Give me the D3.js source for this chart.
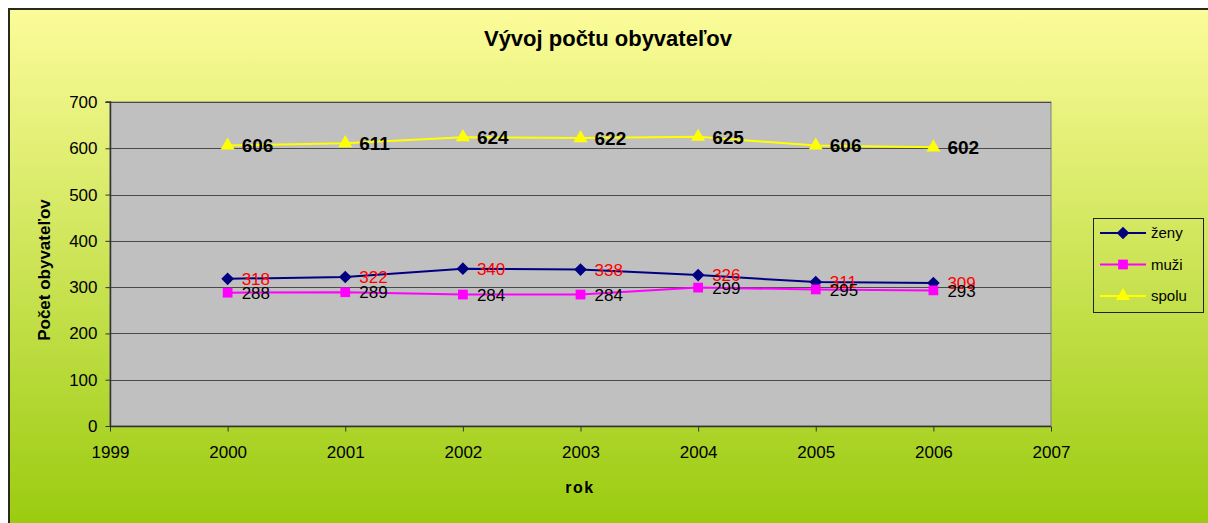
<!DOCTYPE html>
<html><head><meta charset="utf-8">
<script src="https://cdn.jsdelivr.net/npm/d3@7"></script>
<style>html,body{margin:0;padding:0;background:#fff;overflow:hidden}svg{display:block;font-family:"Liberation Sans",Arial,sans-serif}</style>
</head><body>
<svg id="c" width="1208" height="523"></svg>
<script>
const years = [2000, 2001, 2002, 2003, 2004, 2005, 2006];
const zeny = [318, 322, 340, 338, 326, 311, 309];
const muzi = [288, 289, 284, 284, 299, 295, 293];
const spolu = [606, 611, 624, 622, 625, 606, 602];
const yTicks = [0, 100, 200, 300, 400, 500, 600, 700];
const xTicks = [1999, 2000, 2001, 2002, 2003, 2004, 2005, 2006, 2007];
const seriesNames = ["ženy", "muži", "spolu"];

const svg = d3.select("#c");
const defs = svg.append("defs");
const g = defs.append("linearGradient").attr("id","bg").attr("x1",0).attr("y1",0).attr("x2",0).attr("y2",1);
g.append("stop").attr("offset","0%").attr("stop-color","#FCFC9A");
g.append("stop").attr("offset","100%").attr("stop-color","#98CA0C");

svg.append("rect").attr("x",9).attr("y",9).attr("width",1210).attr("height",530)
  .attr("fill","url(#bg)").attr("stroke","#2a2a1a").attr("stroke-width",2);

const L = 110, R = 1051, T = 102, B = 426;
const x = d3.scaleLinear().domain([1999, 2007]).range([L, R]);
const y = d3.scaleLinear().domain([0, 700]).range([B, T]);

svg.append("rect").attr("x",L).attr("y",T).attr("width",R-L).attr("height",B-T)
  .attr("fill","#C0C0C0").attr("stroke","#808080").attr("stroke-width",1);

// gridlines
svg.append("g").selectAll("line").data(yTicks.filter(d=>d>0)).join("line")
  .attr("x1",L).attr("x2",R).attr("y1",d=>Math.round(y(d))+0.5).attr("y2",d=>Math.round(y(d))+0.5)
  .attr("stroke","#4a4a4a").attr("stroke-width",1);

// axes
const yAxis = d3.axisLeft(y).tickValues(yTicks).tickSize(5).tickPadding(8);
const ya = svg.append("g").attr("transform",`translate(${L+0.5},0)`).call(yAxis);
const xAxis = d3.axisBottom(x).tickValues(xTicks).tickFormat(d3.format("d")).tickSize(5).tickPadding(14);
const xa = svg.append("g").attr("transform",`translate(0,${B+0.5})`).call(xAxis);
[ya, xa].forEach(a=>{
  a.select(".domain").attr("stroke","#333").attr("stroke-width",1.5);
  a.selectAll(".tick line").attr("stroke","#333");
  a.selectAll(".tick text").attr("fill","#000").style("font-size","17px").style("font-family","Liberation Sans, Arial, sans-serif");
});
ya.select(".domain").attr("d",`M-5,${T}H0V${B}`);
xa.select(".domain").attr("d",`M${L},0H${R}`);

// titles
svg.append("text").attr("x",608).attr("y",46).attr("text-anchor","middle")
  .style("font-size","22px").style("font-weight","bold").text("Vývoj počtu obyvateľov");
svg.append("text").attr("transform",`translate(50,${270}) rotate(-90)`).attr("text-anchor","middle")
  .style("font-size","17px").style("font-weight","bold").text("Počet obyvateľov");
svg.append("text").attr("x",580).attr("y",493).attr("text-anchor","middle")
  .style("font-size","16px").style("font-weight","bold").style("letter-spacing","1.5px").text("rok");

const diamond = { draw(ctx, size) { const r = Math.sqrt(size/2); ctx.moveTo(0,-r); ctx.lineTo(r,0); ctx.lineTo(0,r); ctx.lineTo(-r,0); ctx.closePath(); } };

const series = [
  {name: seriesNames[0], vals: zeny, color:"#000080", sym:diamond, size:80, lab:"#FF0000", fs:"17px", fw:"normal"},
  {name: seriesNames[1], vals: muzi, color:"#FF00FF", sym:d3.symbolSquare, size:95, lab:"#000000", fs:"17px", fw:"normal"},
  {name: seriesNames[2], vals: spolu, color:"#FFFF00", sym:d3.symbolTriangle, size:85, lab:"#000000", fs:"19px", fw:"bold"}
];
const line = d3.line().x((d,i)=>x(years[i])).y(d=>y(d));
series.forEach(s=>{
  svg.append("path").datum(s.vals).attr("d",line).attr("fill","none").attr("stroke",s.color).attr("stroke-width",2);
  svg.append("g").selectAll("path").data(s.vals).join("path")
    .attr("transform",(d,i)=>`translate(${x(years[i])},${y(d)})`)
    .attr("d",d3.symbol(s.sym,s.size)).attr("fill",s.color);
});
series.forEach(s=>{
  svg.append("g").selectAll("text").data(s.vals).join("text")
    .attr("x",(d,i)=>x(years[i])+14).attr("y",d=>y(d)).attr("dy","0.36em")
    .attr("fill",s.lab).style("font-size",s.fs).style("font-weight",s.fw).text(d=>d);
});

// legend
const lg = svg.append("g");
lg.append("rect").attr("x",1093.5).attr("y",218.5).attr("width",110).attr("height",94)
  .attr("fill","none").attr("stroke","#222").attr("stroke-width",1);
series.forEach((s,i)=>{
  const yy = 233 + i*31.5;
  lg.append("line").attr("x1",1100).attr("x2",1146).attr("y1",yy).attr("y2",yy).attr("stroke",s.color).attr("stroke-width",2);
  lg.append("path").attr("transform",`translate(1123,${yy})`).attr("d",d3.symbol(s.sym,s.size)).attr("fill",s.color);
  lg.append("text").attr("x",1151).attr("y",yy).attr("dy","0.36em").style("font-size","15px").text(s.name);
});
</script>
</body></html>
